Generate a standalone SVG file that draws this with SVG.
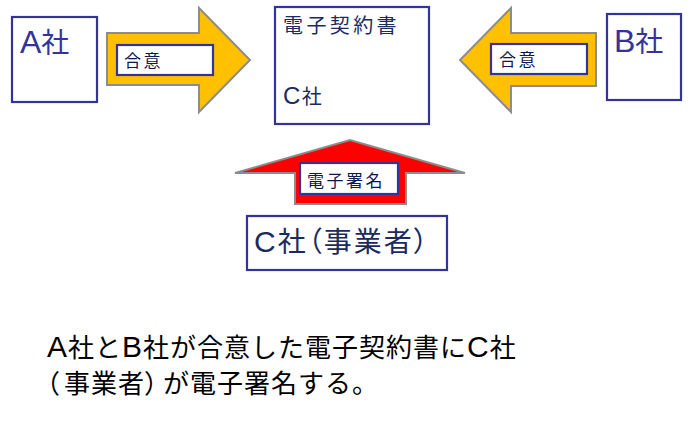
<svg xmlns="http://www.w3.org/2000/svg" width="698" height="427" viewBox="0 0 698 427">
<style>
.box{fill:#fff;stroke:#333399;stroke-width:2.2}
.arrY{fill:#FFC000;stroke:#8c8c8c;stroke-width:2}
.arrR{fill:#FF0000;stroke:#8c8c8c;stroke-width:2}
.t{font-family:"Liberation Sans","Noto Sans CJK JP",sans-serif}
.big{font-size:28px;fill:#333399}
.doc{font-size:20px;fill:#1c2a5c;letter-spacing:3.4px}
.lbl{font-size:17px;fill:#0a1a50;letter-spacing:2.5px}
.cap{font-size:26px;fill:#000;letter-spacing:1px}
.lat{font-size:30px}
.p{font-feature-settings:"palt"}
.pw{font-feature-settings:"palt";letter-spacing:5px}
</style>
<g id="connectors">
<polygon class="arrY" points="107,33 199,33 199,8 250,60 199,112 199,85 107,85"/>
<polygon class="arrY" points="596,33 511,33 511,8 460,60 511,112 511,86 596,86"/>
<polygon class="arrR" points="295,204 295,173 235,173 350,140 465,173 406,173 406,204"/>
<g id="label-agree-left">
<rect class="box" x="117" y="45" width="96" height="30"/>
<text class="t lbl" x="124" y="67">合意</text>
</g>
<g id="label-agree-right">
<rect class="box" x="491" y="44" width="96" height="30"/>
<text class="t lbl" x="499" y="66">合意</text>
</g>
<g id="label-sign">
<rect class="box" x="300" y="163" width="98" height="31"/>
<text class="t lbl" x="307" y="187">電子署名</text>
</g>
</g>
<g id="node-A">
<rect class="box" x="12" y="17" width="85" height="85"/>
<text class="t big" x="20" y="53"><tspan font-size="32">A</tspan>社</text>
</g>
<g id="node-doc">
<rect class="box" x="275" y="7" width="154" height="117"/>
<text class="t doc" x="283" y="33">電子契約書</text>
<text class="t doc" x="283" y="104"><tspan font-size="24" letter-spacing="1.5">C</tspan>社</text>
</g>
<g id="node-B">
<rect class="box" x="607" y="14" width="74" height="86"/>
<text class="t big" x="614" y="52"><tspan font-size="32">B</tspan>社</text>
</g>
<g id="node-C">
<rect class="box" x="247" y="216" width="200" height="54"/>
<text class="t" x="254" y="252" style="fill:#1c2a5c;font-size:28px;letter-spacing:2px"><tspan font-size="30">C</tspan>社<tspan class="p">（</tspan>事業者<tspan class="p">）</tspan></text>
</g>
<g id="caption">
<text class="t cap" x="47" y="357"><tspan class="lat">A</tspan>社と<tspan class="lat">B</tspan>社が合意した電子契約書に<tspan class="lat">C</tspan>社</text>
<text class="t cap" x="46" y="393"><tspan class="pw">（</tspan>事業者<tspan class="pw">）</tspan>が電子署名する。</text>
</g>
</svg>
